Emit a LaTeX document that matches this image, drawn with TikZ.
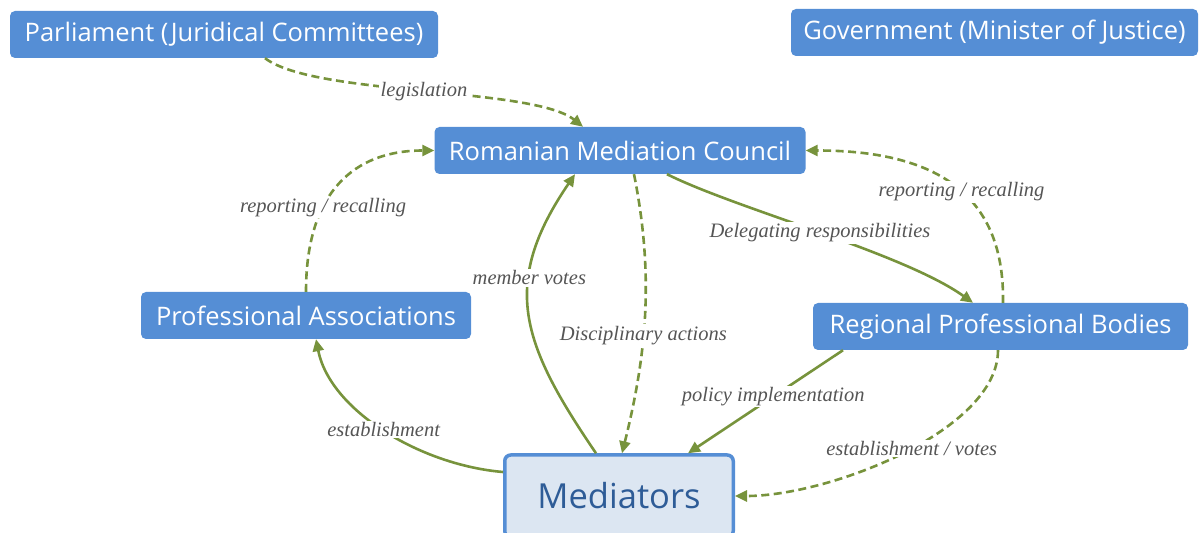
\documentclass[tikz,border=0pt]{standalone}
\usepackage{fontspec}
\setmainfont{Open Sans}
\newfontfamily\lblfont{Liberation Serif}
\usetikzlibrary{arrows.meta}
\definecolor{boxblue}{HTML}{558ED5}
\definecolor{medfill}{HTML}{DCE6F2}
\definecolor{medtext}{HTML}{2E5C97}
\definecolor{edgegreen}{HTML}{77933C}
\definecolor{lblgray}{HTML}{555555}
\begin{document}
\begin{tikzpicture}[x=1pt,y=1pt,
  box/.style={fill=boxblue, text=white, rounded corners=5pt, inner sep=0pt,
    minimum height=47pt, font=\fontsize{25.5}{28}\selectfont},
  medbox/.style={fill=medfill, draw=boxblue, line width=3.5pt, text=medtext,
    rounded corners=6pt, inner sep=0pt, font=\fontsize{34.5}{38}\selectfont},
  conn/.style={draw=edgegreen, line width=2.6pt,
    -{Triangle[length=12pt,width=11pt]}, edgegreen},
  dconn/.style={conn, dash pattern=on 8pt off 4.5pt},
  lbl/.style={fill=white, inner sep=1.5pt, text=lblgray,
    font=\lblfont\itshape\fontsize{20.5}{23}\selectfont}]
\useasboundingbox (0,0) rectangle (1203,533);

\node[box, minimum width=428pt] (par) at (224,498.5) {Parliament (Juridical Committees)};
\node[box, minimum width=407pt] (gov) at (994.5,500.5) {Government (Minister of Justice)};
\node[box, minimum width=371pt] (rmc) at (620,382.5) {Romanian Mediation Council};
\node[box, minimum width=330pt] (pa) at (306,217.5) {Professional Associations};
\node[box, minimum width=375pt] (rpb) at (1000.5,206.5) {Regional Professional Bodies};
\node[medbox, minimum width=228.5pt, minimum height=82pt] (med) at (619,37) {Mediators};

% legislation
\draw[dconn] ([xshift=41pt]par.south) .. controls +(50,-38) and +(-50,40) .. ([xshift=-37pt]rmc.north)
  node[lbl, pos=0.5] {legislation};
% reporting / recalling (left)
\draw[dconn] (pa.north) .. controls +(0,100) and +(-80,0) .. (rmc.west)
  node[lbl, pos=0.35] {reporting / recalling};
% member votes
\draw[conn] ([xshift=-23pt]med.north) .. controls +(-75,110) and +(-75,-110) .. ([xshift=-45pt]rmc.south)
  node[lbl, pos=0.64] {member votes};
% disciplinary actions
\draw[dconn] ([xshift=14pt]rmc.south) .. controls +(20,-100) and +(25,100) .. ([xshift=3pt]med.north)
  node[lbl, pos=0.58] {Disciplinary actions};
% delegating responsibilities
\draw[conn] ([xshift=47pt]rmc.south) .. controls +(70,-35) and +(-70,50) .. ([xshift=-27.5pt]rpb.north)
  node[lbl, pos=0.5] {Delegating responsibilities};
% reporting / recalling (right)
\draw[dconn] ([xshift=2.5pt]rpb.north) .. controls +(2,113) and +(124.5,0) .. (rmc.east)
  node[lbl, pos=0.45] {reporting / recalling};
% establishment
\draw[conn] ([yshift=24pt]med.west) .. controls +(-83,7) and +(14,-71) .. ([xshift=10pt]pa.south)
  node[lbl, pos=0.5] {establishment};
% policy implementation
\draw[conn] ([xshift=-157.5pt]rpb.south) -- ([xshift=69pt]med.north)
  node[lbl, pos=0.45] {policy implementation};
% establishment / votes
\draw[dconn] ([xshift=-2.5pt]rpb.south) .. controls +(0,-80) and +(95,0) .. (med.east)
  node[lbl, pos=0.47] {establishment / votes};
\end{tikzpicture}
\end{document}
